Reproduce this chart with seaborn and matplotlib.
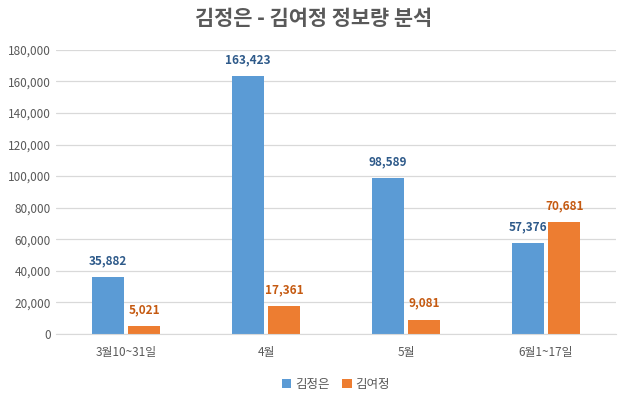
import pandas as pd
import matplotlib
matplotlib.use("Agg")
import matplotlib.pyplot as plt
import seaborn as sns

periods = ['3월10~31일', '4월', '5월', '6월1~17일']
kim_jongun = [35882, 163423, 98589, 57376]
kim_yojong = [5021, 17361, 9081, 70681]
names = ['김정은', '김여정']

df = pd.DataFrame({
    'period': periods * 2,
    'who': [names[0]] * 4 + [names[1]] * 4,
    'count': kim_jongun + kim_yojong,
})

sns.set_style('white')
plt.rcParams['font.family'] = ['Noto Sans CJK KR', 'DejaVu Sans']

fig = plt.figure(figsize=(6.28, 3.96), dpi=100)
ax = fig.add_axes([0.089, 0.157, 0.892, 0.717])

palette = {'김정은': '#5B9BD5', '김여정': '#ED7D31'}
sns.barplot(data=df, x='period', y='count', hue='who', palette=palette,
            width=0.52, gap=0.11, ax=ax, saturation=1, legend=True,
            linewidth=0)

ax.set_ylim(0, 180000)
ax.set_yticks(range(0, 180001, 20000))
ax.set_yticklabels([f'{v:,}' for v in range(0, 180001, 20000)])
ax.yaxis.grid(True, color='#D9D9D9', linewidth=0.9)
ax.set_axisbelow(True)
for s in ['top', 'right', 'left']:
    ax.spines[s].set_visible(False)
ax.spines['bottom'].set_color('#D9D9D9')
ax.tick_params(axis='both', length=0, colors='#595959', labelsize=8.5)
ax.tick_params(axis='x', pad=9)
ax.set_xlabel('')
ax.set_ylabel('')

label_colors = ['#2E5A8A', '#C55A11']
for cont, col in zip(ax.containers, label_colors):
    ax.bar_label(cont, labels=[f'{int(v):,}' for v in cont.datavalues],
                 padding=7, color=col, fontsize=8.5, fontweight='bold')

fig.suptitle('김정은 - 김여정 정보량 분석', x=0.5, y=0.98, fontsize=15,
             fontweight='bold', color='#595959')

leg = ax.legend(loc='upper center', bbox_to_anchor=(0.5, -0.115), ncol=2,
                frameon=False, fontsize=9, handlelength=0.75, handleheight=0.75,
                handletextpad=0.3, columnspacing=1.0)
for t in leg.get_texts():
    t.set_color('#595959')

fig.savefig('out.png', dpi=100)
